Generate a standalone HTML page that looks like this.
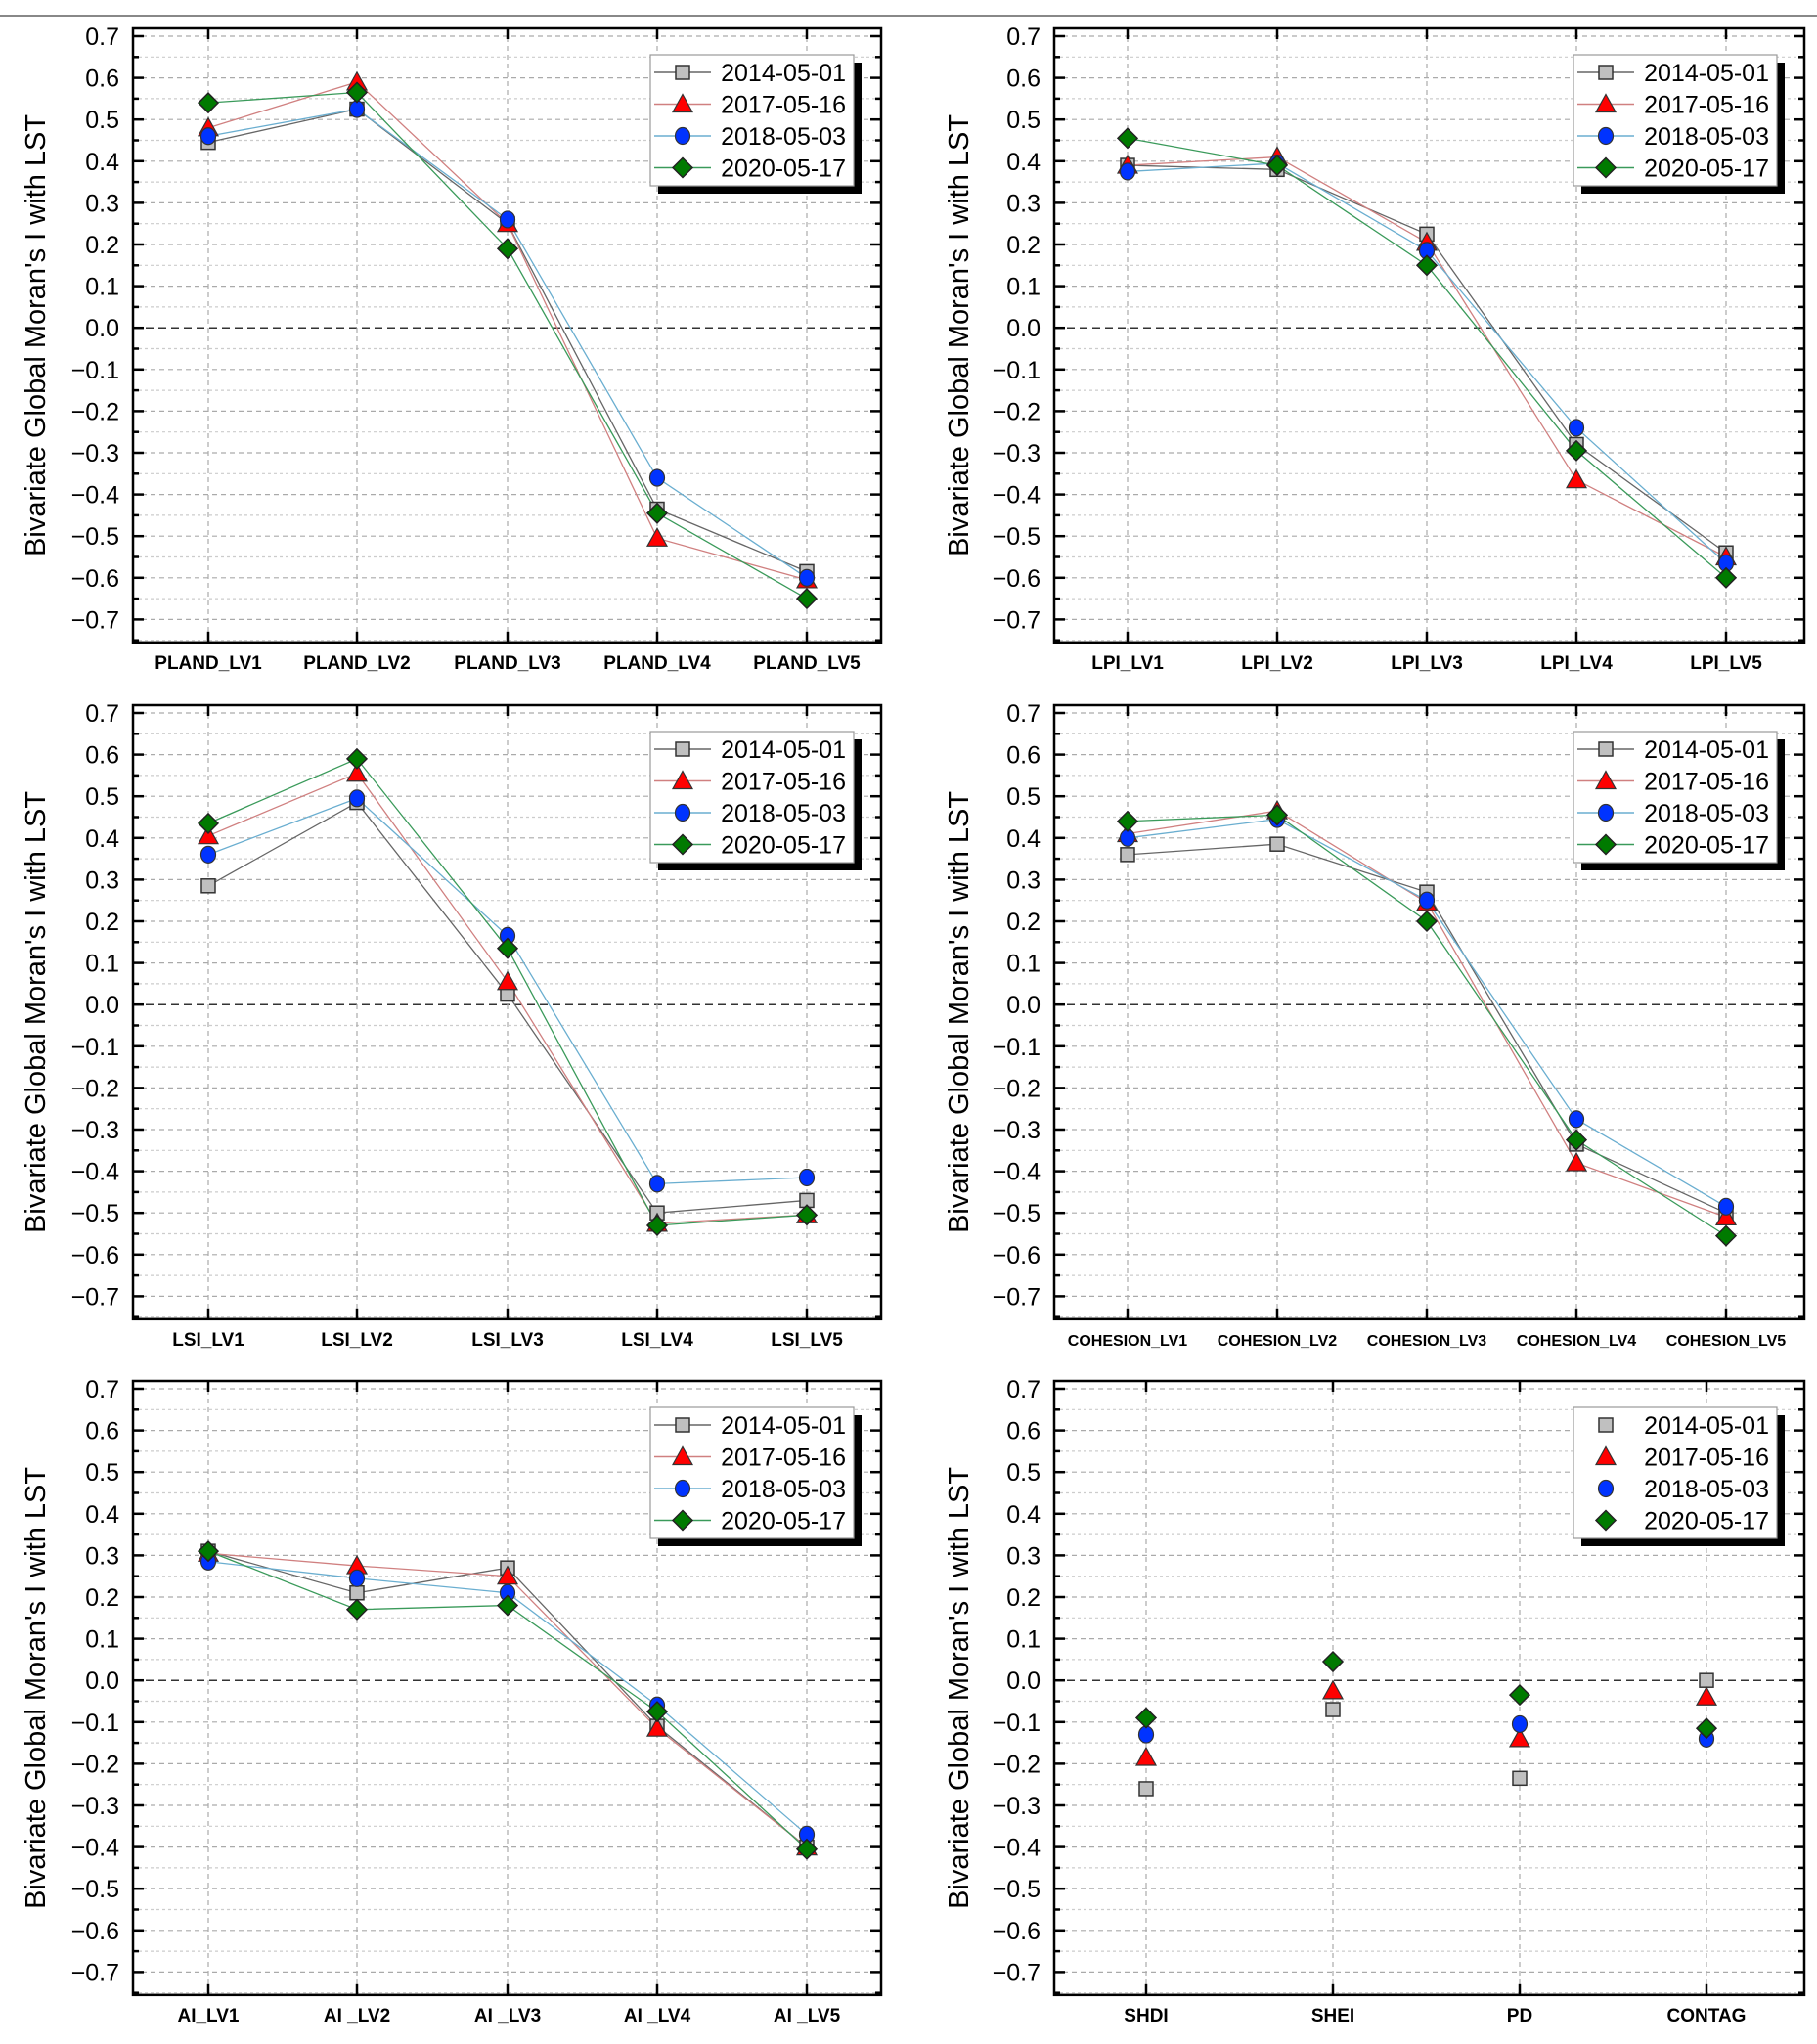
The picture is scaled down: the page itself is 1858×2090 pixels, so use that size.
<!DOCTYPE html>
<html><head><meta charset="utf-8"><style>
body{margin:0;background:#fff;}
svg text{font-family:"Liberation Sans",Arial,sans-serif;}
</style></head><body>
<svg id="s" width="1858" height="2085" xmlns="http://www.w3.org/2000/svg"></svg>
<script>
const S=document.getElementById('s');let h='';
h+='<rect width="1858" height="2085" fill="#fff"/><line x1="0" y1="16" x2="1858" y2="16" stroke="#888" stroke-width="2"/>';
const cols={L:{x0:136,x1:901,tx:122,tt:36},R:{x0:1078,x1:1845,tx:1064,tt:980}};
const rows=[37,729,1420];const U=42.6;
const colors=[['#c0c0c0','#666'],['#ff0000','#d08080'],['#0033ff','#6aaed0'],['#007a00','#3a9a5a']];
const dates=['2014-05-01','2017-05-16','2018-05-03','2020-05-17'];
function mk(t,x,y,i){const c=colors[i][0];
 if(t==0)return `<rect x="${x-7}" y="${y-7}" width="14" height="14" fill="${c}" stroke="#333" stroke-width="1.5"/>`;
 if(t==1)return `<polygon points="${x},${y-10} ${x+10},${y+8} ${x-10},${y+8}" fill="${c}" stroke="#333" stroke-width="1.2"/>`;
 if(t==2)return `<ellipse cx="${x}" cy="${y}" rx="7.5" ry="8.5" fill="${c}" stroke="#333" stroke-width="1.2"/>`;
 return `<polygon points="${x},${y-10} ${x+10},${y} ${x},${y+10} ${x-10},${y}" fill="${c}" stroke="#222" stroke-width="1.5"/>`;}
function plot(col,r,cats,xs,data,lines,fs){
 const C=cols[col],y7=rows[r],Y=v=>y7+(0.7-v)*10*U,top=y7-8,bot=Y(-0.755);
 for(let k=-15;k<=14;k++){const v=k/20,y=Y(v);if(y<top+2)continue;
  const maj=k%2==0;
  if(k==0)h+=`<line x1="${C.x0}" y1="${y}" x2="${C.x1}" y2="${y}" stroke="#333" stroke-width="1.5" stroke-dasharray="8,5"/>`;
  else h+=`<line x1="${C.x0}" y1="${y}" x2="${C.x1}" y2="${y}" stroke="${maj?'#aaa':'#ccc'}" stroke-width="1.2" stroke-dasharray="${maj?'5,4':'3,3'}"/>`;
  const tl=maj?11:6;
  h+=`<line x1="${C.x0}" y1="${y}" x2="${C.x0+tl}" y2="${y}" stroke="#000" stroke-width="2.5"/><line x1="${C.x1}" y1="${y}" x2="${C.x1-tl}" y2="${y}" stroke="#000" stroke-width="2.5"/>`;
  if(maj){const s=(v<0?'−':'')+Math.abs(v).toFixed(1);h+=`<text x="${C.tx}" y="${y+9}" font-size="25" text-anchor="end">${s}</text>`;}}
 xs.forEach((x,j)=>{h+=`<line x1="${x}" y1="${top}" x2="${x}" y2="${bot}" stroke="#aaa" stroke-width="1.2" stroke-dasharray="5,4"/><line x1="${x}" y1="${top}" x2="${x}" y2="${top+11}" stroke="#000" stroke-width="2.5"/><line x1="${x}" y1="${bot}" x2="${x}" y2="${bot-11}" stroke="#000" stroke-width="2.5"/>`;
  h+=`<text x="${x}" y="${bot+27}" font-size="${fs||19}" font-weight="bold" text-anchor="middle">${cats[j]}</text>`;});
 h+=`<rect x="${C.x0}" y="${top}" width="${C.x1-C.x0}" height="${bot-top}" fill="none" stroke="#000" stroke-width="2.5"/>`;
 const cy=(top+bot)/2;h+=`<text transform="translate(${C.tt+10},${cy}) rotate(-90)" font-size="29" text-anchor="middle">Bivariate Global Moran's I with LST</text>`;
 if(lines)data.forEach((d,i)=>{h+=`<polyline points="${d.map((v,j)=>xs[j]+','+Y(v)).join(' ')}" fill="none" stroke="${colors[i][1]}" stroke-width="1.3"/>`;});
 data.forEach((d,i)=>d.forEach((v,j)=>{if(v!==null)h+=mk(i,xs[j],Y(v),i);}));
 const lx=C.x1-236,ly=top+27;
 h+=`<rect x="${lx+8}" y="${ly+8}" width="208" height="134" fill="#000"/><rect x="${lx}" y="${ly}" width="208" height="134" fill="#fff" stroke="#999" stroke-width="1.2"/>`;
 dates.forEach((d,i)=>{const yy=ly+18+i*32.5;if(lines)h+=`<line x1="${lx+4}" y1="${yy}" x2="${lx+62}" y2="${yy}" stroke="${colors[i][1]}" stroke-width="1.5"/>`;
  h+=mk(i,lx+33,yy,i)+`<text x="${lx+200}" y="${yy+9}" font-size="25" text-anchor="end">${d}</text>`;});
}
const XL=[213,365,519,672,825],XR=[1153,1306,1459,1612,1765],X4=[1172,1363,1554,1745];
plot('L',0,['PLAND_LV1','PLAND_LV2','PLAND_LV3','PLAND_LV4','PLAND_LV5'],XL,[[.445,.525,.25,-.435,-.585],[.48,.59,.25,-.505,-.605],[.46,.525,.26,-.36,-.6],[.54,.565,.19,-.445,-.65]],1);
plot('R',0,['LPI_LV1','LPI_LV2','LPI_LV3','LPI_LV4','LPI_LV5'],XR,[[.39,.38,.225,-.28,-.54],[.39,.41,.205,-.365,-.55],[.375,.395,.185,-.24,-.565],[.455,.39,.15,-.295,-.6]],1);
plot('L',1,['LSI_LV1','LSI_LV2','LSI_LV3','LSI_LV4','LSI_LV5'],XL,[[.285,.485,.025,-.5,-.47],[.405,.555,.055,-.525,-.505],[.36,.495,.165,-.43,-.415],[.435,.59,.135,-.53,-.505]],1);
plot('R',1,['COHESION_LV1','COHESION_LV2','COHESION_LV3','COHESION_LV4','COHESION_LV5'],XR,[[.36,.385,.27,-.335,-.5],[.41,.465,.245,-.38,-.51],[.4,.445,.25,-.275,-.485],[.44,.455,.2,-.325,-.555]],1,16);
plot('L',2,['AI_LV1','AI _LV2','AI _LV3','AI _LV4','AI _LV5'],XL,[[.31,.21,.27,-.11,-.4],[.305,.275,.25,-.115,-.4],[.285,.245,.21,-.06,-.37],[.31,.17,.18,-.075,-.405]],1);
plot('R',2,['SHDI','SHEI','PD','CONTAG'],X4,[[-.26,-.07,-.235,0],[-.185,-.025,-.14,-.04],[-.13,null,-.105,-.14],[-.09,.045,-.035,-.115]],0);
S.innerHTML=h;
</script>
</body></html>
